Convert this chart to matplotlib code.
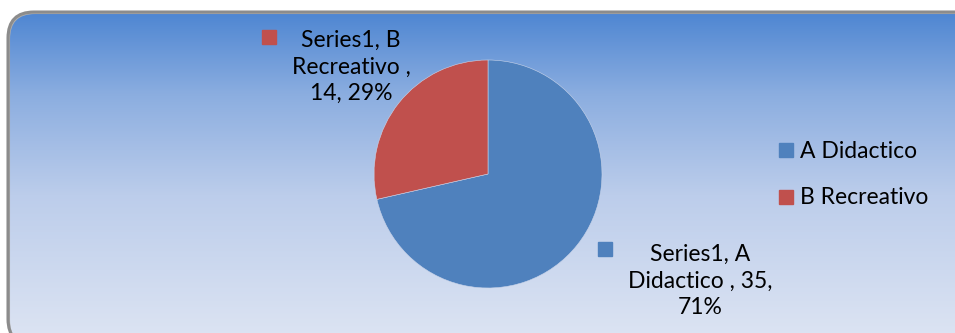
import numpy as np
import matplotlib
matplotlib.use('Agg')
import matplotlib.pyplot as plt
from matplotlib.patches import FancyBboxPatch, Rectangle
from matplotlib.colors import LinearSegmentedColormap

# Datos del grafico
categorias = ['A Didactico', 'B Recreativo']
valores = [35, 14]
serie = 'Series1'
colores = ['#4F81BD', '#C0504D']

W, H = 955, 333
plt.rcParams['font.family'] = ['Lato', 'DejaVu Sans']

fig = plt.figure(figsize=(W / 100, H / 100), dpi=100)
ax = fig.add_axes([0, 0, 1, 1])

# Fondo con degradado y borde redondeado
marco = FancyBboxPatch((8, -12), 990, 333,
                       boxstyle='round,pad=0,rounding_size=26',
                       facecolor='none', edgecolor='#8C8C8C', linewidth=2.2, zorder=2)
sombra = FancyBboxPatch((9, -13), 990, 333,
                        boxstyle='round,pad=0,rounding_size=26',
                        facecolor='none', edgecolor='#B0B0B0', linewidth=1.5, zorder=1)
ax.add_patch(sombra)
ax.add_patch(marco)
cmap = LinearSegmentedColormap.from_list(
    'fondo', [(0, '#DEE5F3'), (0.45, '#BCCDEB'), (0.75, '#8CAEE0'), (1, '#4E86D2')])
grad = np.linspace(0, 1, 256).reshape(-1, 1)
img = ax.imshow(grad, cmap=cmap, origin='lower', aspect='auto',
                extent=(8, 998, -12, 321), zorder=0)
img.set_clip_path(marco)

# Grafico circular
total = sum(valores)
ax.pie(valores, colors=colores, startangle=90, counterclock=False,
       center=(488, 159), radius=114, frame=True,
       wedgeprops=dict(linewidth=0.4, edgecolor='#C9D4EA'))

# Etiquetas de datos
fs = 16.5
lado = 14
pct = [round(v / total * 100) for v in valores]
etq_b = f'{serie}, B\nRecreativo ,\n{valores[1]}, {pct[1]}%'
etq_a = f'{serie}, A\nDidactico , {valores[0]},\n{pct[0]}%'
ax.text(351, 266, etq_b, ha='center', va='center', fontsize=fs,
        linespacing=1.32, color='black', zorder=5)
ax.add_patch(Rectangle((268.5 - lado / 2, 296 - lado / 2), lado, lado,
                       color=colores[1], zorder=5))
ax.text(700, 52, etq_a, ha='center', va='center', fontsize=fs,
        linespacing=1.32, color='black', zorder=5)
ax.add_patch(Rectangle((604.5 - lado / 2, 84.5 - lado / 2), lado, lado,
                       color=colores[0], zorder=5))

# Leyenda
for i, (cat, col) in enumerate(zip(categorias, colores)):
    y = 182 - i * 47
    ax.add_patch(Rectangle((785.5 - lado / 2, y + 1 - lado / 2), lado, lado,
                           color=col, zorder=5))
    ax.text(800, y, cat, ha='left', va='center', fontsize=fs, color='black', zorder=5)

ax.set_xlim(0, W)
ax.set_ylim(0, H)
ax.axis('off')
fig.savefig('out.png', dpi=100, facecolor='white')
